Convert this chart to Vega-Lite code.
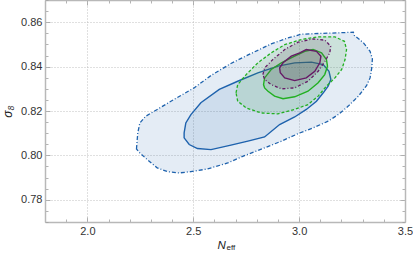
{
  "$schema": "https://vega.github.io/schema/vega-lite/v6.json",
  "width": 360,
  "height": 222,
  "autosize": {"type": "none"},
  "padding": {"left": 45, "top": 0, "right": 8, "bottom": 38},
  "background": "white",
  "config": {
    "view": {"stroke": null},
    "font": "Liberation Sans",
    "axis": {"labelFont": "Liberation Sans", "titleFont": "Liberation Sans", "labelColor": "#333333", "titleColor": "#222222", "labelFontSize": 11, "domainColor": "#b8b8b8", "domainWidth": 1.5, "tickColor": "#a0a0a0", "tickWidth": 0.8}
  },
  "datasets": {
    "poly": [
      {"c":"bo","i":0,"n":2.232,"s":0.8029},{"c":"bo","i":1,"n":2.238,"s":0.8101},{"c":"bo","i":2,"n":2.248,"s":0.8146},{"c":"bo","i":3,"n":2.275,"s":0.8176},{"c":"bo","i":4,"n":2.330,"s":0.8207},{"c":"bo","i":5,"n":2.409,"s":0.8252},{"c":"bo","i":6,"n":2.504,"s":0.8304},{"c":"bo","i":7,"n":2.584,"s":0.8360},{"c":"bo","i":8,"n":2.678,"s":0.8414},{"c":"bo","i":9,"n":2.773,"s":0.8459},{"c":"bo","i":10,"n":2.868,"s":0.8502},{"c":"bo","i":11,"n":2.947,"s":0.8529},{"c":"bo","i":12,"n":3.011,"s":0.8546},{"c":"bo","i":13,"n":3.090,"s":0.8549},{"c":"bo","i":14,"n":3.185,"s":0.8552},{"c":"bo","i":15,"n":3.256,"s":0.8555},{"c":"bo","i":16,"n":3.261,"s":0.8540},{"c":"bo","i":17,"n":3.304,"s":0.8507},{"c":"bo","i":18,"n":3.335,"s":0.8469},{"c":"bo","i":19,"n":3.346,"s":0.8435},{"c":"bo","i":20,"n":3.343,"s":0.8394},{"c":"bo","i":21,"n":3.335,"s":0.8349},{"c":"bo","i":22,"n":3.319,"s":0.8315},{"c":"bo","i":23,"n":3.280,"s":0.8267},{"c":"bo","i":24,"n":3.232,"s":0.8222},{"c":"bo","i":25,"n":3.185,"s":0.8184},{"c":"bo","i":26,"n":3.137,"s":0.8154},{"c":"bo","i":27,"n":3.066,"s":0.8124},{"c":"bo","i":28,"n":2.995,"s":0.8098},{"c":"bo","i":29,"n":2.916,"s":0.8064},{"c":"bo","i":30,"n":2.837,"s":0.8034},{"c":"bo","i":31,"n":2.742,"s":0.7999},{"c":"bo","i":32,"n":2.663,"s":0.7966},{"c":"bo","i":33,"n":2.568,"s":0.7939},{"c":"bo","i":34,"n":2.489,"s":0.7927},{"c":"bo","i":35,"n":2.433,"s":0.7921},{"c":"bo","i":36,"n":2.378,"s":0.7927},{"c":"bo","i":37,"n":2.330,"s":0.7944},{"c":"bo","i":38,"n":2.283,"s":0.7981},{"c":"bo","i":39,"n":2.248,"s":0.8011},
      {"c":"bi","i":0,"n":2.457,"s":0.8101},{"c":"bi","i":1,"n":2.465,"s":0.8146},{"c":"bi","i":2,"n":2.489,"s":0.8184},{"c":"bi","i":3,"n":2.536,"s":0.8237},{"c":"bi","i":4,"n":2.623,"s":0.8297},{"c":"bi","i":5,"n":2.710,"s":0.8334},{"c":"bi","i":6,"n":2.805,"s":0.8372},{"c":"bi","i":7,"n":2.900,"s":0.8402},{"c":"bi","i":8,"n":2.979,"s":0.8417},{"c":"bi","i":9,"n":3.058,"s":0.8420},{"c":"bi","i":10,"n":3.114,"s":0.8409},{"c":"bi","i":11,"n":3.141,"s":0.8379},{"c":"bi","i":12,"n":3.150,"s":0.8342},{"c":"bi","i":13,"n":3.137,"s":0.8312},{"c":"bi","i":14,"n":3.114,"s":0.8282},{"c":"bi","i":15,"n":3.082,"s":0.8244},{"c":"bi","i":16,"n":3.034,"s":0.8207},{"c":"bi","i":17,"n":2.979,"s":0.8173},{"c":"bi","i":18,"n":2.908,"s":0.8139},{"c":"bi","i":19,"n":2.837,"s":0.8083},{"c":"bi","i":20,"n":2.758,"s":0.8064},{"c":"bi","i":21,"n":2.678,"s":0.8046},{"c":"bi","i":22,"n":2.584,"s":0.8026},{"c":"bi","i":23,"n":2.520,"s":0.8031},{"c":"bi","i":24,"n":2.481,"s":0.8049},{"c":"bi","i":25,"n":2.457,"s":0.8079},
      {"c":"go","i":0,"n":2.702,"s":0.8282},{"c":"go","i":1,"n":2.710,"s":0.8319},{"c":"go","i":2,"n":2.750,"s":0.8364},{"c":"go","i":3,"n":2.805,"s":0.8417},{"c":"go","i":4,"n":2.868,"s":0.8462},{"c":"go","i":5,"n":2.932,"s":0.8499},{"c":"go","i":6,"n":3.011,"s":0.8522},{"c":"go","i":7,"n":3.090,"s":0.8534},{"c":"go","i":8,"n":3.169,"s":0.8534},{"c":"go","i":9,"n":3.214,"s":0.8514},{"c":"go","i":10,"n":3.224,"s":0.8477},{"c":"go","i":11,"n":3.217,"s":0.8432},{"c":"go","i":12,"n":3.201,"s":0.8387},{"c":"go","i":13,"n":3.169,"s":0.8349},{"c":"go","i":14,"n":3.129,"s":0.8312},{"c":"go","i":15,"n":3.090,"s":0.8267},{"c":"go","i":16,"n":3.042,"s":0.8229},{"c":"go","i":17,"n":2.979,"s":0.8207},{"c":"go","i":18,"n":2.900,"s":0.8187},{"c":"go","i":19,"n":2.821,"s":0.8191},{"c":"go","i":20,"n":2.750,"s":0.8214},{"c":"go","i":21,"n":2.710,"s":0.8244},
      {"c":"gi","i":0,"n":2.832,"s":0.8319},{"c":"gi","i":1,"n":2.837,"s":0.8349},{"c":"gi","i":2,"n":2.868,"s":0.8387},{"c":"gi","i":3,"n":2.916,"s":0.8417},{"c":"gi","i":4,"n":2.979,"s":0.8447},{"c":"gi","i":5,"n":3.027,"s":0.8469},{"c":"gi","i":6,"n":3.066,"s":0.8477},{"c":"gi","i":7,"n":3.106,"s":0.8462},{"c":"gi","i":8,"n":3.129,"s":0.8432},{"c":"gi","i":9,"n":3.134,"s":0.8402},{"c":"gi","i":10,"n":3.121,"s":0.8364},{"c":"gi","i":11,"n":3.090,"s":0.8327},{"c":"gi","i":12,"n":3.042,"s":0.8289},{"c":"gi","i":13,"n":2.979,"s":0.8264},{"c":"gi","i":14,"n":2.924,"s":0.8255},{"c":"gi","i":15,"n":2.884,"s":0.8267},{"c":"gi","i":16,"n":2.853,"s":0.8289},{"c":"gi","i":17,"n":2.837,"s":0.8304},
      {"c":"po","i":0,"n":2.829,"s":0.8364},{"c":"po","i":1,"n":2.837,"s":0.8394},{"c":"po","i":2,"n":2.876,"s":0.8432},{"c":"po","i":3,"n":2.932,"s":0.8477},{"c":"po","i":4,"n":2.995,"s":0.8510},{"c":"po","i":5,"n":3.066,"s":0.8525},{"c":"po","i":6,"n":3.122,"s":0.8519},{"c":"po","i":7,"n":3.149,"s":0.8492},{"c":"po","i":8,"n":3.145,"s":0.8462},{"c":"po","i":9,"n":3.122,"s":0.8424},{"c":"po","i":10,"n":3.090,"s":0.8379},{"c":"po","i":11,"n":3.042,"s":0.8334},{"c":"po","i":12,"n":2.979,"s":0.8304},{"c":"po","i":13,"n":2.916,"s":0.8300},{"c":"po","i":14,"n":2.868,"s":0.8319},{"c":"po","i":15,"n":2.837,"s":0.8342},
      {"c":"pi","i":0,"n":2.908,"s":0.8394},{"c":"pi","i":1,"n":2.924,"s":0.8417},{"c":"pi","i":2,"n":2.963,"s":0.8447},{"c":"pi","i":3,"n":3.003,"s":0.8462},{"c":"pi","i":4,"n":3.034,"s":0.8477},{"c":"pi","i":5,"n":3.082,"s":0.8469},{"c":"pi","i":6,"n":3.103,"s":0.8447},{"c":"pi","i":7,"n":3.098,"s":0.8417},{"c":"pi","i":8,"n":3.074,"s":0.8379},{"c":"pi","i":9,"n":3.034,"s":0.8349},{"c":"pi","i":10,"n":2.979,"s":0.8337},{"c":"pi","i":11,"n":2.932,"s":0.8349},{"c":"pi","i":12,"n":2.911,"s":0.8372}
    ]
  },
  "data": {"name": "poly"},
  "layer": [
    {
      "encoding": {
        "x": {"field": "n", "type": "quantitative", "scale": {"domain": [1.8, 3.5], "nice": false, "zero": false},
          "axis": {"orient": "bottom", "values": [1.8,1.9,2.0,2.1,2.2,2.3,2.4,2.5,2.6,2.7,2.8,2.9,3.0,3.1,3.2,3.3,3.4,3.5], "format": ".1f",
            "labelExpr": "abs(datum.value*2-round(datum.value*2))<0.001 ? datum.label : ''",
            "tickSize": {"condition": {"test": "abs(datum.value*2-round(datum.value*2))<0.001", "value": -5}, "value": -3},
            "labelPadding": 8, "labelFlush": false,
            "grid": true, "gridDash": [1, 2], "gridColor": "#b0b0b0", "gridWidth": 0.8,
            "gridOpacity": {"condition": {"test": "abs(datum.value*2-round(datum.value*2))<0.001", "value": 1}, "value": 0},
            "title": "N", "titleFontStyle": "italic", "titleFontWeight": "normal", "titleFontSize": 11.5,
            "titleX": 172, "titleY": 26, "titleAlign": "left", "titleBaseline": "alphabetic"}},
        "y": {"field": "s", "type": "quantitative", "scale": {"domain": [0.77, 0.87], "nice": false, "zero": false},
          "axis": {"orient": "left", "values": [0.77,0.775,0.78,0.785,0.79,0.795,0.8,0.805,0.81,0.815,0.82,0.825,0.83,0.835,0.84,0.845,0.85,0.855,0.86,0.865,0.87], "format": ".2f",
            "labelExpr": "abs(datum.value*50-round(datum.value*50))<0.001 ? datum.label : ''",
            "tickSize": {"condition": {"test": "abs(datum.value*50-round(datum.value*50))<0.001", "value": -5}, "value": -3},
            "labelPadding": 8, "labelFlush": false,
            "grid": true, "gridDash": [1, 2], "gridColor": "#b0b0b0", "gridWidth": 0.8,
            "gridOpacity": {"condition": {"test": "abs(datum.value*50-round(datum.value*50))<0.001", "value": 1}, "value": 0},
            "title": "σ₈", "titleFontStyle": "italic", "titleFontWeight": "normal", "titleFontSize": 12, "titlePadding": 6}},
        "order": {"field": "i", "type": "quantitative"}
      },
      "layer": [
        {"transform": [{"filter": "datum.c == 'bo'"}], "mark": {"type": "line", "interpolate": "linear-closed", "stroke": "#1e62ad", "strokeWidth": 1.3, "strokeDash": [4, 2, 1, 2], "fill": "#1e62ad", "fillOpacity": 0.12}},
        {"transform": [{"filter": "datum.c == 'bi'"}], "mark": {"type": "line", "interpolate": "linear-closed", "stroke": "#1e62ad", "strokeWidth": 1.4, "fill": "#1e62ad", "fillOpacity": 0.11}},
        {"transform": [{"filter": "datum.c == 'go'"}], "mark": {"type": "line", "interpolate": "linear-closed", "stroke": "#22b022", "strokeWidth": 1.3, "strokeDash": [3, 2], "fill": "#2ca02c", "fillOpacity": 0.13}},
        {"transform": [{"filter": "datum.c == 'gi'"}], "mark": {"type": "line", "interpolate": "linear-closed", "stroke": "#22b022", "strokeWidth": 1.4, "fill": "#2ca02c", "fillOpacity": 0.1}},
        {"transform": [{"filter": "datum.c == 'po'"}], "mark": {"type": "line", "interpolate": "linear-closed", "stroke": "#661a66", "strokeWidth": 1.3, "strokeDash": [3, 2, 1, 2], "fill": "#5a4a5a", "fillOpacity": 0.18}},
        {"transform": [{"filter": "datum.c == 'pi'"}], "mark": {"type": "line", "interpolate": "linear-closed", "stroke": "#661a66", "strokeWidth": 1.4, "fill": "#5a4a5a", "fillOpacity": 0.18}}
      ]
    },
    {
      "mark": {"type": "point", "opacity": 0},
      "encoding": {
        "x": {"field": "n", "type": "quantitative", "scale": {"domain": [1.8, 3.5], "nice": false, "zero": false},
          "axis": {"orient": "top", "values": [1.8,1.9,2.0,2.1,2.2,2.3,2.4,2.5,2.6,2.7,2.8,2.9,3.0,3.1,3.2,3.3,3.4,3.5], "labels": false, "grid": false,
            "tickSize": {"condition": {"test": "abs(datum.value*2-round(datum.value*2))<0.001", "value": -5}, "value": -3},
            "title": "eff", "titleFontStyle": "normal", "titleFontWeight": "normal", "titleFontSize": 8,
            "titleX": 181, "titleY": 249, "titleAlign": "left", "titleBaseline": "alphabetic", "titleAngle": 0}},
        "y": {"field": "s", "type": "quantitative", "scale": {"domain": [0.77, 0.87], "nice": false, "zero": false},
          "axis": {"orient": "right", "values": [0.77,0.775,0.78,0.785,0.79,0.795,0.8,0.805,0.81,0.815,0.82,0.825,0.83,0.835,0.84,0.845,0.85,0.855,0.86,0.865,0.87], "labels": false, "grid": false, "title": null,
            "tickSize": {"condition": {"test": "abs(datum.value*50-round(datum.value*50))<0.001", "value": -5}, "value": -3}}}
      }
    }
  ],
  "resolve": {"scale": {"x": "independent", "y": "independent"}, "axis": {"x": "independent", "y": "independent"}}
}
